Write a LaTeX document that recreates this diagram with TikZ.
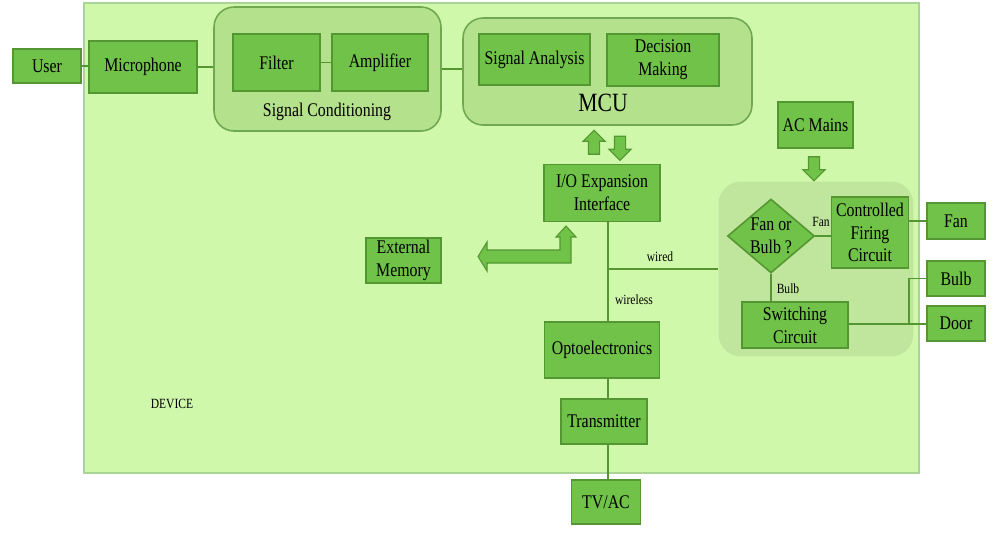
\documentclass[tikz,border=0pt]{standalone}
\usepackage{fontspec}
\setmainfont{Liberation Serif}[FakeStretch=0.82]
\usepackage{tikz}
\usetikzlibrary{shapes.geometric,shapes.arrows}

\definecolor{devfill}{RGB}{208,248,170}
\definecolor{devline}{RGB}{170,212,150}
\definecolor{boxfill}{RGB}{112,194,72}
\definecolor{boxline}{RGB}{84,150,50}
\definecolor{grpfill}{RGB}{180,225,140}
\definecolor{grpline}{RGB}{112,168,82}
\definecolor{panfill}{RGB}{192,230,158}

\begin{document}
\begin{tikzpicture}[x=0.02cm, y=-0.02cm,
  box/.style={draw=boxline, fill=boxfill, line width=0.9pt, align=center,
    inner sep=1pt, font=\fontsize{11}{13}\selectfont},
  group/.style={draw=grpline, fill=grpfill, line width=0.9pt, rounded corners=0.4cm},
  wire/.style={draw=boxline, line width=0.8pt},
  tag/.style={font=\fontsize{8}{9}\selectfont},
  fatarrow/.style={single arrow, draw=boxline, fill=boxfill, line width=0.6pt,
    minimum height=0.48cm, minimum width=0.42cm, inner sep=0.1cm,
    single arrow head extend=0.11cm}]
  \useasboundingbox (0,0) rectangle (1000,552);

  % device area
  \filldraw[fill=devfill, draw=devline, line width=0.6pt] (84,3) rectangle (919,473);
  \node[tag] (device) at (172,404) {DEVICE};

  % groups
  \node[group, minimum width=4.54cm, minimum height=2.48cm] (sigcond) at (327.5,69) {};
  \node[font=\fontsize{11}{13}\selectfont] (sclabel) at (327,112) {Signal Conditioning};
  \node[group, minimum width=5.78cm, minimum height=2.14cm] (mcu) at (607.5,71.5) {};
  \node[font=\fontsize{15}{17}\selectfont] (mculabel) at (603,103) {MCU};
  \node[fill=panfill, rounded corners=0.45cm, minimum width=3.9cm, minimum height=3.5cm] (panel) at (816,269) {};

  % blocks
  \node[box, minimum width=1.36cm, minimum height=0.68cm] (user) at (47,66) {User};
  \node[box, minimum width=2.16cm, minimum height=1.04cm] (mic) at (143,67) {Microphone};
  \node[box, minimum width=1.74cm, minimum height=1.14cm] (filter) at (276.5,62.5) {Filter};
  \node[box, minimum width=1.92cm, minimum height=1.14cm] (amp) at (380,62.5) {Amplifier};
  \node[box, minimum width=2.22cm, minimum height=1.02cm] (analysis) at (534.5,59.5) {Signal Analysis};
  \node[box, minimum width=2.24cm, minimum height=1.04cm] (decision) at (663,60) {Decision\\Making};
  \node[box, minimum width=2.32cm, minimum height=1.14cm] (io) at (602,193) {I/O Expansion\\Interface};
  \node[box, minimum width=1.5cm, minimum height=0.92cm] (acmains) at (815.5,125) {AC Mains};
  \node[box, minimum width=1.5cm, minimum height=0.9cm] (extmem) at (403.5,260.5) {External\\Memory};
  \node[box, minimum width=2.3cm, minimum height=1.12cm] (opto) at (602,350) {Optoelectronics};
  \node[box, minimum width=1.72cm, minimum height=0.9cm] (trans) at (604,421.5) {Transmitter};
  \node[box, minimum width=1.38cm, minimum height=0.88cm] (tvac) at (606,502) {TV/AC};
  \node[box, diamond, aspect=1.15, minimum width=1.74cm, minimum height=1.48cm,
    inner sep=0pt] (fob) at (771,236) {Fan or\\Bulb ?};
  \node[box, minimum width=1.54cm, minimum height=1.42cm] (firing) at (870,232.5) {Controlled\\Firing\\Circuit};
  \node[box, minimum width=2.12cm, minimum height=0.92cm] (switch) at (795,325) {Switching\\Circuit};
  \node[box, minimum width=1.16cm, minimum height=0.72cm] (fan) at (956,221) {Fan};
  \node[box, minimum width=1.16cm, minimum height=0.7cm] (bulb) at (956,278.5) {Bulb};
  \node[box, minimum width=1.16cm, minimum height=0.7cm] (door) at (956,323.5) {Door};

  % fat arrows
  \node[fatarrow, shape border rotate=90] (up) at (594,145) {};
  \node[fatarrow, shape border rotate=270] (down) at (620,145.5) {};
  \node[fatarrow, shape border rotate=270] (acdown) at (814,166) {};
  \filldraw[fill=boxfill, draw=boxline, line width=0.6pt]
    (566,226) -- (576,237) -- (571,237) -- (571,263) -- (487,263) -- (487,271)
    -- (478,256.5) -- (487,242) -- (487,250) -- (560,250) -- (560,237)
    -- (556,237) -- cycle;

  % wires
  \draw[wire] (user.east) -- (mic.west |- user.east);
  \draw[wire] (mic.east) -- (sigcond.west |- mic.east);
  \draw[wire] (filter.east) -- (amp.west);
  \draw[wire] (sigcond.east) -- (sigcond.east -| mcu.west);
  \coordinate (split) at (608,269);
  \draw[wire] (io.south -| split) -- (opto.north -| split);
  \draw[wire] (split) -- (panel.west |- split);
  \draw[wire] (opto.south -| split) -- (trans.north -| split);
  \draw[wire] (trans.south -| split) -- (tvac.north -| split);
  \draw[wire] (fob.east) -- (firing.west |- fob.east);
  \draw[wire] (fan.west) -- (fan.west -| firing.east);
  \draw[wire] (fob.south) -- (fob.south |- switch.north);
  \coordinate (bd) at (909,324);
  \draw[wire] (switch.east |- bd) -- (door.west |- bd);
  \draw[wire] (bd) |- (bulb.west);

  % wire labels
  \node[tag] (wired) at (660,257) {wired};
  \node[tag] (wireless) at (634,300) {wireless};
  \node[tag] (fanlbl) at (821,222) {Fan};
  \node[tag] (bulblbl) at (788,289) {Bulb};
\end{tikzpicture}
\end{document}
